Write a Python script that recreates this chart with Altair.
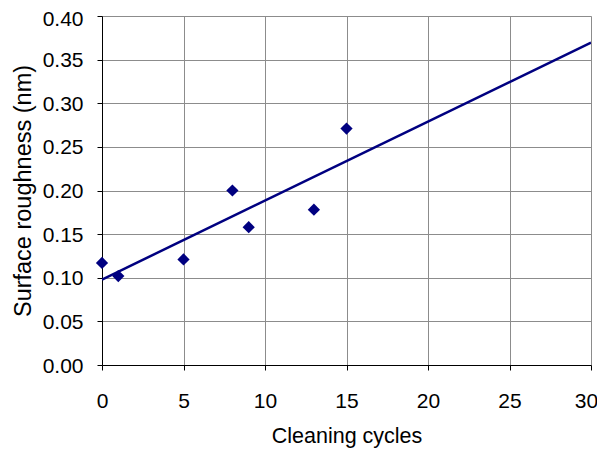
import altair as alt
import pandas as pd

cycles = [0, 1, 5, 8, 9, 13, 15]
roughness = [0.117, 0.102, 0.121, 0.200, 0.158, 0.178, 0.271]
x_ticks = [0, 5, 10, 15, 20, 25, 30]
y_ticks = [0, 0.05, 0.1, 0.15, 0.2, 0.25, 0.3, 0.35, 0.4]

df = pd.DataFrame({"cycles": cycles, "roughness": roughness})

FONT = "Liberation Sans"
NAVY = "#000080"
GRID = "#8c8c8c"

x_enc = alt.X("cycles:Q",
              scale=alt.Scale(domain=[0, 30], nice=False, zero=False),
              axis=alt.Axis(title="Cleaning cycles", values=x_ticks,
                            format="d", grid=True, gridColor=GRID, gridWidth=1,
                            domainColor="black", tickColor="black", tickSize=5,
                            labelFlush=False,
                            labelOffset={"condition": {"test": "datum.value >= 29", "value": -5}, "value": 0},
                            labelFont=FONT, labelFontSize=21, labelColor="black",
                            labelPadding=20, titleFont=FONT, titleFontSize=21.5,
                            titleFontWeight="normal", titleColor="black", titlePadding=14))
y_enc = alt.Y("roughness:Q",
              scale=alt.Scale(domain=[0, 0.4], nice=False),
              axis=alt.Axis(title="Surface roughness (nm)", values=y_ticks,
                            format=".2f", grid=True, gridColor=GRID, gridWidth=1,
                            domainColor="black", tickColor="black", tickSize=5,
                            labelFlush=False,
                            labelFont=FONT, labelFontSize=21, labelColor="black",
                            labelOffset={"condition": {"test": "datum.value >= 0.39", "value": 3}, "value": 1},
                            labelPadding=14, titleFont=FONT, titleFontSize=23.5,
                            titleFontWeight="normal", titleColor="black", titlePadding=7))

points = alt.Chart(df).mark_point(shape="diamond", filled=True, size=150, color=NAVY, opacity=1).encode(
    x=x_enc, y=y_enc)

trend = alt.Chart(df).transform_regression(
    "cycles", "roughness", extent=[0, 30]
).mark_line(color=NAVY, strokeWidth=2.5, clip=True).encode(x=x_enc, y=y_enc)

chart = alt.layer(trend, points).properties(
    width=489, height=349,
    autosize=alt.AutoSizeParams(type="none"),
    padding={"left": 94, "top": 8, "right": 6, "bottom": 86},
).configure_view(stroke=GRID, strokeWidth=1).configure(background="white")

chart.save("out.html", embed_options={"renderer": "svg", "actions": False})
